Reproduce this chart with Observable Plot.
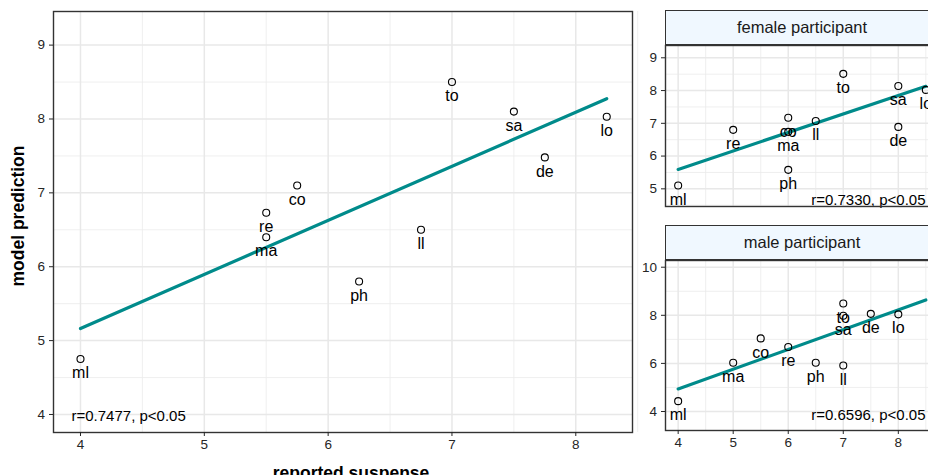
<!DOCTYPE html>
<html><head><meta charset="utf-8">
<script src="https://cdn.jsdelivr.net/npm/d3@7"></script>
<script src="https://cdn.jsdelivr.net/npm/@observablehq/plot@0.6"></script>
<style>
body{margin:0;background:#fff;}
#wrap{position:relative;width:928px;height:475px;overflow:hidden;font-family:"Liberation Sans",Arial,sans-serif;background:#fff;}
#wrap > svg{position:absolute;}
.strip{position:absolute;box-sizing:border-box;background:#f0f8ff;border:1px solid #333;color:#1a1a1a;font-size:16.5px;display:flex;align-items:center;justify-content:center;}
</style></head><body><div id="wrap"></div>
<script>
// ---- data: overall panel ----
const mainLabels = ["ml","ma","re","co","ph","ll","to","sa","de","lo"];
const mainSuspense = [4, 5.5, 5.5, 5.75, 6.25, 6.75, 7, 7.5, 7.75, 8.25];
const mainPrediction = [4.75, 6.4, 6.73, 7.1, 5.8, 6.5, 8.5, 8.1, 7.48, 8.03];
// ---- data: female participant ----
const femaleLabels = ["ml","re","co","ma","ph","ll","to","sa","de","lo"];
const femaleSuspense = [4, 5, 6, 6, 6, 6.5, 7, 8, 8, 8.5];
const femalePrediction = [5.1, 6.8, 7.17, 6.74, 5.58, 7.07, 8.51, 8.14, 6.89, 8.02];
// ---- data: male participant ----
const maleLabels = ["ml","ma","co","re","ph","ll","to","sa","de","lo"];
const maleSuspense = [4, 5, 5.5, 6, 6.5, 7, 7, 7, 7.5, 8];
const malePrediction = [4.43, 6.03, 7.04, 6.68, 6.03, 5.91, 8.49, 7.98, 8.06, 8.04];
// ---- texts & ticks ----
const corrTexts = ["r=0.7477, p<0.05", "r=0.7330, p<0.05", "r=0.6596, p<0.05"];
const facetTitles = ["female participant", "male participant"];
const xTitle = "reported suspense";
const yTitle = "model prediction";
const xTicks = [4, 5, 6, 7, 8];
const xMinor = [4.5, 5.5, 6.5, 7.5, 8.5];
const mainYTicks = [4, 5, 6, 7, 8, 9];
const mainYMinor = [4.5, 5.5, 6.5, 7.5, 8.5];
const femaleYTicks = [5, 6, 7, 8, 9];
const femaleYMinor = [4.5, 5.5, 6.5, 7.5, 8.5];
const maleYTicks = [4, 6, 8, 10];
const maleYMinor = [5, 7, 9];

const FONT = '"Liberation Sans", Arial, sans-serif';
const TEAL = "#008b8b";

function regLine(xs, ys, extent) {
  const mx = d3.mean(xs), my = d3.mean(ys);
  const sxy = d3.sum(xs, (x, i) => (x - mx) * (ys[i] - my));
  const sxx = d3.sum(xs, x => (x - mx) ** 2);
  const b = sxy / sxx, a = my - b * mx;
  return extent.map(x => ({x, y: a + b * x}));
}

function panel(o) {
  const data = o.labels.map((l, i) => ({label: l, x: o.xs[i], y: o.ys[i]}));
  const marks = [
    Plot.ruleX(o.xMinor, {stroke: "#ebebeb", strokeWidth: 0.8}),
    Plot.ruleY(o.yMinor, {stroke: "#ebebeb", strokeWidth: 0.8}),
    Plot.ruleX(o.xTicks, {stroke: "#e8e8e8", strokeWidth: 1.5}),
    Plot.ruleY(o.yTicks, {stroke: "#e8e8e8", strokeWidth: 1.5}),
    Plot.line(regLine(o.xs, o.ys, o.lineExtent), {x: "x", y: "y", stroke: TEAL, strokeWidth: 3.2}),
    Plot.dot(data, {x: "x", y: "y", r: 3.5, stroke: "black", strokeWidth: 1.1, fill: "none"}),
    Plot.text(data, {x: "x", y: "y", text: "label", dy: 14, fontSize: 16, fill: "black"}),
    Plot.text([o.rText], {frameAnchor: o.rAnchor, text: d => d, textAnchor: o.rTextAnchor, lineAnchor: "middle", dx: o.rDx, dy: o.rDy, fontSize: 15, fill: "black"}),
    Plot.frame({stroke: "#333", strokeWidth: 1.4}),
    Plot.axisY(o.yTicks, {tickSize: 4, tickPadding: 4.5, label: null, fontSize: 13.5, tickFormat: "d", color: "#262626"}),
  ];
  if (o.showX) marks.push(Plot.axisX(o.xTicks, {tickSize: 4, tickPadding: 3, label: null, fontSize: 13.5, tickFormat: "d", color: "#262626"}));
  if (o.extra) marks.push(...o.extra);
  const svg = Plot.plot({
    width: o.width, height: o.height,
    marginLeft: o.ml, marginRight: o.mr, marginTop: o.mt, marginBottom: o.mb,
    style: {fontFamily: FONT, fontSize: "13.5px", color: "#333", background: "transparent", overflow: "visible"},
    x: {domain: o.xDomain, axis: null},
    y: {domain: o.yDomain, axis: null},
    marks
  });
  svg.querySelectorAll('g[aria-label*="tick label"] text').forEach(t => { t.style.fontSize = "13.5px"; });
  svg.style.left = o.left + "px";
  svg.style.top = o.top + "px";
  return svg;
}

const wrap = document.getElementById("wrap");

// main panel
wrap.appendChild(panel({
  labels: mainLabels, xs: mainSuspense, ys: mainPrediction,
  xDomain: [3.782, 8.458], yDomain: [3.756, 9.455],
  xTicks, xMinor, yTicks: mainYTicks, yMinor: mainYMinor,
  lineExtent: d3.extent(mainSuspense),
  rText: corrTexts[0], rAnchor: "bottom-left", rTextAnchor: "start", rDx: 18, rDy: -16,
  showX: true,
  width: 640, height: 475, ml: 53, mr: 8, mt: 11, mb: 43, left: 0, top: 0,
  extra: [
    Plot.text([yTitle], {frameAnchor: "left", text: d => d, rotate: -90, textAnchor: "middle", lineAnchor: "middle", dx: -35, dy: -6, fontSize: 17.5, fontWeight: "bold", fill: "black"}),
    Plot.text([xTitle], {frameAnchor: "bottom", text: d => d, textAnchor: "middle", lineAnchor: "middle", dx: 8, dy: 41, fontSize: 17.5, fontWeight: "bold", fill: "black"})
  ]
}));

const facetExtent = d3.extent([...femaleSuspense, ...maleSuspense]);

// female panel
wrap.appendChild(panel({
  labels: femaleLabels, xs: femaleSuspense, ys: femalePrediction,
  xDomain: [3.77, 8.73], yDomain: [4.461, 9.375],
  xTicks, xMinor, yTicks: femaleYTicks, yMinor: femaleYMinor,
  lineExtent: facetExtent,
  rText: corrTexts[1], rAnchor: "bottom-right", rTextAnchor: "end", rDx: -13, rDy: -6.5,
  showX: false,
  width: 320, height: 215, ml: 35, mr: 12, mt: 45, mb: 9, left: 630, top: 0
}));

// male panel
wrap.appendChild(panel({
  labels: maleLabels, xs: maleSuspense, ys: malePrediction,
  xDomain: [3.77, 8.73], yDomain: [3.21, 10.279],
  xTicks, xMinor, yTicks: maleYTicks, yMinor: maleYMinor,
  lineExtent: facetExtent,
  rText: corrTexts[2], rAnchor: "bottom-right", rTextAnchor: "end", rDx: -13, rDy: -15.5,
  showX: true,
  width: 320, height: 260, ml: 35, mr: 12, mt: 45, mb: 45, left: 630, top: 215
}));

// facet strips
[[facetTitles[0], 10], [facetTitles[1], 225]].forEach(([t, top]) => {
  const d = document.createElement("div");
  d.className = "strip";
  d.style.left = "665px"; d.style.top = top + "px";
  d.style.width = "274px"; d.style.height = "35px";
  d.textContent = t;
  wrap.appendChild(d);
});
</script></body></html>
